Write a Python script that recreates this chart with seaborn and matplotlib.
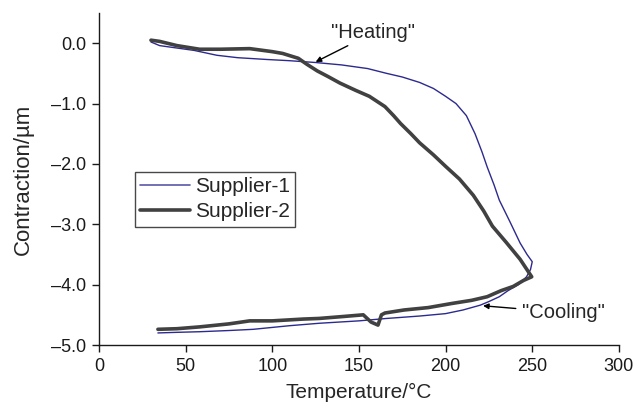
import matplotlib
matplotlib.use("Agg")
import matplotlib.pyplot as plt
import seaborn as sns
import pandas as pd
from matplotlib.lines import Line2D

# Supplier-1 (heating then cooling)
s1_temp = [30, 35, 45, 55, 68, 80, 97, 110, 125, 140, 155, 166, 175, 185, 193, 200, 206, 212, 217, 221,
           224, 228, 231, 237, 243, 247, 250,
           249, 246.7, 242, 236, 231, 225, 220, 210, 200, 185, 166, 150, 127, 110, 89, 75, 58, 45, 34]
s1_contr = [0.02, -0.04, -0.08, -0.12, -0.20, -0.24, -0.27, -0.29, -0.32, -0.36, -0.42, -0.50, -0.56, -0.65,
            -0.75, -0.88, -1.00, -1.20, -1.50, -1.80, -2.05, -2.35, -2.60, -2.95, -3.31, -3.50, -3.62,
            -3.75, -3.87, -4.00, -4.10, -4.20, -4.28, -4.34, -4.42, -4.48, -4.52, -4.56, -4.60, -4.64,
            -4.68, -4.74, -4.76, -4.78, -4.79, -4.80]

# Supplier-2 (heating then cooling)
s2_temp = [30, 35, 45, 58, 70, 87, 100, 106, 115, 120, 126, 132, 139, 148, 156, 165, 170, 174, 180, 185,
           193, 200, 208, 216, 222, 227, 235, 243, 249.7,
           245, 239, 232, 224, 215, 204, 190, 176, 165, 163, 161, 157, 152.5, 140, 127, 118, 100, 87, 75,
           58, 45, 34]
s2_contr = [0.05, 0.03, -0.04, -0.10, -0.10, -0.09, -0.14, -0.17, -0.25, -0.35, -0.46, -0.55, -0.66, -0.78,
            -0.88, -1.05, -1.20, -1.33, -1.50, -1.65, -1.85, -2.04, -2.25, -2.52, -2.78, -3.03, -3.30,
            -3.58, -3.87,
            -3.93, -4.03, -4.10, -4.20, -4.26, -4.31, -4.38, -4.42, -4.47, -4.50, -4.67, -4.62, -4.50,
            -4.53, -4.56, -4.57, -4.60, -4.60, -4.65, -4.70, -4.73, -4.74]

series = ["Supplier-1", "Supplier-2"]
x_ticks = [0, 50, 100, 150, 200, 250, 300]
y_ticks = [-5.0, -4.0, -3.0, -2.0, -1.0, 0.0]

df = pd.DataFrame({
    "Temperature": s1_temp + s2_temp,
    "Contraction": s1_contr + s2_contr,
    "Series": [series[0]] * len(s1_temp) + [series[1]] * len(s2_temp),
})

sns.set_style("ticks")
plt.rcParams['font.family'] = ['Liberation Sans', 'DejaVu Sans']

fig = plt.figure(figsize=(6.44, 4.03), dpi=100)
ax = fig.add_axes([0.1537, 0.1439, 0.8073, 0.8238])

sns.lineplot(data=df, x="Temperature", y="Contraction", hue="Series", size="Series",
             palette={"Supplier-1": "#2d2a8e", "Supplier-2": "#414141"},
             sizes={"Supplier-1": 1.0, "Supplier-2": 2.6},
             sort=False, estimator=None, units="Series", ax=ax, legend=False)

ax.set_xlim(0, 300)
ax.set_ylim(-5.0, 0.5)
ax.set_xticks(x_ticks)
ax.set_yticks(y_ticks)
ax.set_xticklabels([str(t) for t in x_ticks], fontsize=13)
ax.set_yticklabels([f"{t:.1f}".replace("-", "\u2013") if t != 0 else "0.0" for t in y_ticks], fontsize=13)
ax.tick_params(direction="out", length=5, width=1, colors="#1a1a1a", pad=4)
for s in ["left", "bottom"]:
    ax.spines[s].set_color("#1a1a1a")
    ax.spines[s].set_linewidth(1)
sns.despine(ax=ax)

ax.set_xlabel("Temperature/\u00b0C", fontsize=15)
ax.set_ylabel("Contraction/\u00b5m", fontsize=16)
ax.xaxis.set_label_coords(0.5, -0.115)
ax.yaxis.set_label_coords(-0.125, 0.5)

handles = [Line2D([], [], color="#5a57a8", lw=1.2),
           Line2D([], [], color="#414141", lw=2.6)]
leg = ax.legend(handles, series, loc="upper left", bbox_to_anchor=(0.069, 0.521),
                fontsize=15, frameon=True, fancybox=False, edgecolor="#1a1a1a",
                handlelength=2.4, handletextpad=0.25, borderpad=0.25, labelspacing=0.3,
                borderaxespad=0)
leg.get_frame().set_linewidth(1)

ax.annotate('"Heating"', xy=(125, -0.31), xytext=(134, 0.17), fontsize=14.5,
            va="center", ha="left",
            arrowprops=dict(arrowstyle="-|>", color="black", lw=1, shrinkA=0, shrinkB=0,
                            mutation_scale=8))
ax.annotate('"Cooling"', xy=(221.6, -4.35), xytext=(244, -4.46), fontsize=14.5,
            va="center", ha="left",
            arrowprops=dict(arrowstyle="-|>", color="black", lw=1, shrinkA=2, shrinkB=0,
                            mutation_scale=8))

fig.savefig("out.png", dpi=100)
